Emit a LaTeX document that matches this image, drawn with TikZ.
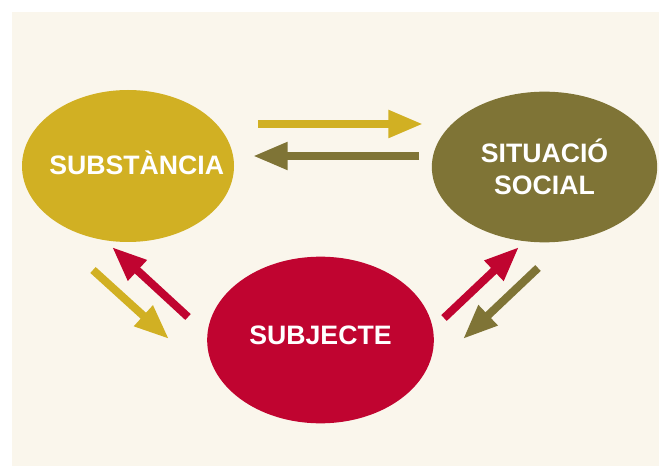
\documentclass[tikz,border=0pt]{standalone}
\usepackage{fontspec}
\setmainfont{Liberation Sans}
\usepackage{xcolor}
\usetikzlibrary{arrows.meta,shapes.geometric}

\definecolor{cream}{RGB}{250,246,236}
\definecolor{gold}{RGB}{209,176,35}
\definecolor{olive}{RGB}{127,116,54}
\definecolor{crimson}{RGB}{192,4,48}

\begin{document}
\begin{tikzpicture}[
  x=0.75pt,y=-0.75pt,
  blob/.style={ellipse,inner xsep=-40pt,inner ysep=-20pt,align=center,text=white,
    font=\fontsize{20}{24}\selectfont\bfseries},
  flow/.style={line width=6pt,-{Triangle[length=26pt,width=19.5pt]}}
]
\useasboundingbox (0,0) rectangle (659,466);
\fill[cream] (12,12) rectangle (659,466);

\node[blob,fill=gold,minimum width=159pt,minimum height=114pt]    (sub) at (128,166)   {\raisebox{4.5pt}{\hspace*{13pt}SUBSTÀNCIA}};
\node[blob,fill=olive,minimum width=169pt,minimum height=113pt]   (sit) at (544.5,167) {SITUACIÓ\\SOCIAL};
\node[blob,fill=crimson,minimum width=170pt,minimum height=125pt] (sbj) at (320.5,340) {\raisebox{7pt}{SUBJECTE}};

% ends of the arrows
\coordinate (a1) at (258,124); \coordinate (b1) at (423,124);
\coordinate (a2) at (419,156); \coordinate (b2) at (253,156);
\coordinate (a3) at (93,270);  \coordinate (b3) at (169,339);
\coordinate (a4) at (188,317); \coordinate (b4) at (112,247);
\coordinate (a5) at (444,318); \coordinate (b5) at (519,247);
\coordinate (a6) at (538,268); \coordinate (b6) at (463,339);

\draw[flow,gold]    (a1) -- (b1);
\draw[flow,olive]   (a2) -- (b2);
\draw[flow,gold]    (a3) -- (b3);
\draw[flow,crimson] (a4) -- (b4);
\draw[flow,crimson] (a5) -- (b5);
\draw[flow,olive]   (a6) -- (b6);
\end{tikzpicture}
\end{document}
